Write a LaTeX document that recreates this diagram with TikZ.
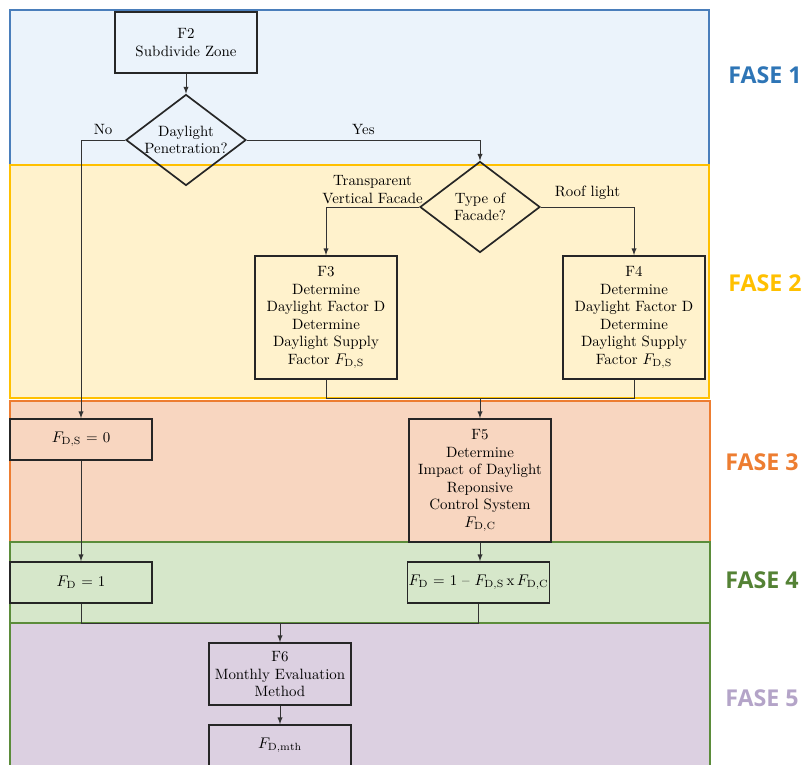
\documentclass[tikz,border=0pt]{standalone}
\usepackage{fontspec}
\usetikzlibrary{shapes.geometric}
\newfontfamily\fasefont{Open Sans}
\definecolor{bandA}{HTML}{EBF3FB}
\definecolor{bandAline}{HTML}{4A7EBB}
\definecolor{bandB}{HTML}{FFF2CC}
\definecolor{bandBline}{HTML}{FFC000}
\definecolor{bandC}{HTML}{F8D6C0}
\definecolor{bandCline}{HTML}{ED7D31}
\definecolor{bandD}{HTML}{D6E7CA}
\definecolor{bandDline}{HTML}{5B8C3A}
\definecolor{bandE}{HTML}{DCD0E1}
\definecolor{faseA}{HTML}{2E75B6}
\definecolor{faseB}{HTML}{FFC000}
\definecolor{faseC}{HTML}{ED7D31}
\definecolor{faseD}{HTML}{548235}
\definecolor{faseE}{HTML}{B4A4C8}
\tikzset{>=latex}

\begin{document}
\begin{tikzpicture}[x=0.025cm,y=-0.025cm,
  txt/.style={font=\fontsize{10.6}{12.5}\selectfont,text=black},
  box/.style={txt,draw=black!85,line width=1.2pt,minimum width=3.55cm,align=center,inner sep=1pt},
  decision/.style={txt,diamond,draw=black!85,line width=1.2pt,aspect=1.32,minimum width=3cm,minimum height=2.275cm,inner sep=-2pt,align=center},
  line/.style={black!80,line width=0.65pt},
  fase/.style={font=\fasefont\bfseries\fontsize{16.5}{18}\selectfont}]
\useasboundingbox (0,0) rectangle (806,764);
% bands
\draw[fill=bandA,draw=bandAline,line width=1.4pt] (10,10) rectangle (709,165);
\draw[fill=bandB,draw=bandBline,line width=1.4pt] (10,165) rectangle (709,398);
\draw[fill=bandC,draw=bandCline,line width=1.4pt] (10,401) rectangle (710,542);
\draw[fill=bandD,draw=bandDline,line width=1.4pt] (10,542) rectangle (710,623);
\draw[fill=bandE,draw=bandDline,line width=1.4pt] (10,623) rectangle (710,780);
\node[fase,text=faseA] (fase1) at (765,75) {FASE 1};
\node[fase,text=faseB] (fase2) at (765,283) {FASE 2};
\node[fase,text=faseC] (fase3) at (762,462) {FASE 3};
\node[fase,text=faseD] (fase4) at (762,580) {FASE 4};
\node[fase,text=faseE] (fase5) at (762,698) {FASE 5};
% nodes
\node[box,minimum height=1.525cm] (f2) at (186,42.5) {F2\\Subdivide Zone};
\node[decision] (pen) at (186,140) {Daylight\\Penetration?};
\node[decision] (fac) at (480,207) {Type of\\Facade?};
\node[box,minimum height=3.075cm] (f3) at (326,317.5) {F3\\Determine\\Daylight Factor D\\Determine\\Daylight Supply\\Factor $F_{\mathrm{D,S}}$};
\node[box,minimum height=3.075cm] (f4) at (634,317.5) {F4\\Determine\\Daylight Factor D\\Determine\\Daylight Supply\\Factor $F_{\mathrm{D,S}}$};
\node[box,minimum height=1.025cm] (fds) at (81,439.5) {$F_{\mathrm{D,S}}$ = 0};
\node[box,minimum height=3.075cm] (f5) at (480,480.5) {F5\\Determine\\Impact of Daylight\\Reponsive\\Control System\\$F_{\mathrm{D,C}}$};
\node[box,minimum height=1.025cm] (fd1) at (81,582.5) {$F_{\mathrm{D}}$ = 1};
\node[box,minimum height=1.025cm,inner sep=0pt] (fdc) at (478.5,582.5) {$F_{\mathrm{D}}$ = 1 -- $F_{\mathrm{D,S}}$\,x\,$F_{\mathrm{D,C}}$};
\node[box,minimum height=1.55cm] (f6) at (280,674) {F6\\Monthly Evaluation\\Method};
\node[box,minimum height=1.025cm] (fdm) at (280,745.5) {$F_{\mathrm{D,mth}}$};
% connectors
\draw[line,->] (f2) -- (pen);
\draw[line,->] (pen.west) -| node[txt,pos=.25,above] (no) {No} (fds.north);
\draw[line,->] (pen.east) -| node[txt,pos=.25,above] (yes) {Yes} (fac.north);
\draw[line,->] (fac.west) -| node[txt,pos=.25,above,align=center,inner sep=2pt] (tvf) {Transparent\\Vertical Facade} (f3.north);
\draw[line,->] (fac.east) -| node[txt,pos=.25,above,inner sep=5pt] (roof) {Roof light} (f4.north);
\coordinate (m1) at (480,398);
\draw[line] (f3.south) |- (m1) -| (f4.south);
\draw[line,->] (m1) -- (f5);
\draw[line,->] (fds) -- (fd1);
\draw[line,->] (f5.south) -- (f5.south |- fdc.north);
\coordinate (m2) at (280,623);
\draw[line] (fd1.south) |- (m2) -| (fdc.south);
\draw[line,->] (m2) -- (f6);
\draw[line,->] (f6) -- (fdm);
\end{tikzpicture}
\end{document}
